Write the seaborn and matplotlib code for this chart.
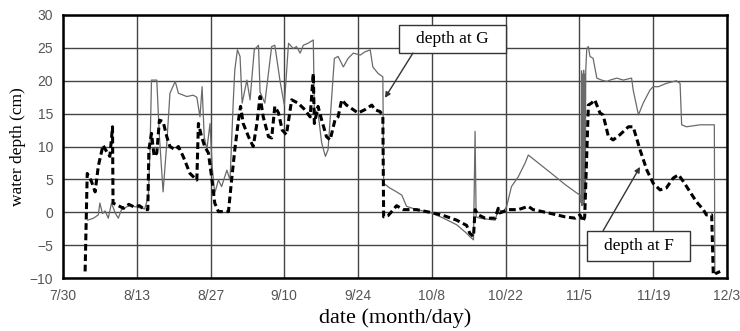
import matplotlib
matplotlib.use("Agg")
import seaborn as sns
import matplotlib.pyplot as plt
import matplotlib.patches as mpatches
import pandas as pd

# days counted from 7/30
tick_labels = ["7/30", "8/13", "8/27", "9/10", "9/24", "10/8", "10/22", "11/5", "11/19", "12/3"]

# depth at F (dashed)
f_days = [4.2, 4.6, 5.4, 6.1, 6.7, 7.6, 8.3, 8.9, 9.4, 9.5, 10.5, 11.5, 12.5, 13.5, 14.5, 15.5, 16.1,
          16.3, 16.8, 17.3, 17.8, 18.3, 19.0, 19.7, 20.3, 21.3, 21.9, 22.8, 24.1, 25.4,
          25.7, 26.3, 26.9, 27.6, 28.2, 28.8, 29.5, 31.4, 32.0, 32.6, 33.3, 33.7, 34.2, 35.2, 36.1,
          36.8, 37.4, 38.0, 39.0, 39.6, 40.2, 40.9, 41.6, 42.4, 43.4, 44.6, 45.9, 46.9, 47.5, 47.7,
          48.4, 49.1, 50.0, 50.7, 51.6, 52.2, 52.9, 53.8, 55.1, 56.0, 57.3, 58.6, 59.2, 60.2, 60.7,
          60.85, 61.7, 62.7, 63.3, 64.6, 67.1, 69.6, 72.2, 74.7, 76.6, 77.2, 77.9, 78.2, 78.8, 80.1,
          82.0, 82.6, 82.9, 84.5, 86.4, 88.3, 89.2, 92.1, 95.3, 97.2, 98.1, 98.7, 99.0, 99.7, 100.3,
          100.9, 101.9, 102.5, 103.5, 104.4, 105.7, 107.3, 108.2, 109.5, 110.8, 112.0, 113.3, 114.5,
          115.8, 116.8, 117.7, 119.0, 120.2, 121.5, 122.1, 123.1, 123.4, 124.7]
f_depth = [-9.0, 5.9, 4.7, 3.1, 7.0, 10.2, 9.2, 8.5, 13.0, 1.4, 1.0, 0.6, 1.2, 0.8, 1.0, 0.4, 0.4,
           9.5, 12.0, 8.5, 9.0, 14.0, 13.8, 11.5, 10.0, 9.5, 10.0, 8.5, 5.9, 4.9,
           13.5, 11.5, 10.0, 9.0, 5.4, 1.4, 0.1, 0.1, 4.9, 9.5, 14.0, 16.1, 13.5, 11.5, 10.0,
           13.5, 17.6, 14.5, 11.5, 11.3, 16.1, 15.1, 12.5, 11.8, 17.1, 16.6, 15.6, 14.5, 21.1, 13.5,
           16.1, 14.0, 11.5, 11.0, 14.0, 14.5, 17.1, 16.3, 15.6, 15.1, 15.6, 16.3, 15.6, 15.3, 14.5,
           -0.7, -0.5, 0.4, 1.0, 0.4, 0.4, 0.0, -0.5, -1.2, -2.0, -3.2, -3.7, 0.4, -0.4, -0.9,
           -0.9, 0.6, -0.1, 0.4, 0.4, 0.9, 0.4, -0.1, -0.7, -0.9, -0.4, -1.4, -0.7, 16.3, 16.6,
           17.1, 15.1, 14.8, 11.5, 11.0, 11.8, 13.0, 13.0, 9.5, 6.4, 4.4, 3.4, 3.7,
           5.2, 5.7, 4.7, 3.1, 1.6, 0.4, -0.4, -0.4, -9.5, -9.0]

# depth at G (thin)
g_days = [4.7, 5.8, 6.7, 7.0, 7.5, 8.0, 8.6, 9.2, 9.9, 10.5, 11.1, 12.5, 14.0, 15.5, 16.2,
          16.5, 16.8, 17.8, 18.3, 19.0, 19.7, 20.3, 21.3, 21.9, 23.5, 24.7, 25.4,
          26.0, 26.4, 26.8, 27.3, 27.9, 28.3, 28.8, 29.5, 30.1, 31.1, 31.7, 32.3, 32.6, 33.1, 33.6,
          34.0, 34.9, 35.5, 36.3, 37.1, 37.4, 38.3, 39.6, 40.2, 41.2, 42.0, 42.8, 43.7, 44.3, 45.0,
          45.6, 46.5, 47.5, 47.7, 48.4, 49.1, 49.8, 50.3, 51.0, 51.5, 52.2, 53.2, 54.1, 55.1, 56.4,
          57.3, 58.3, 58.8, 59.8, 60.7, 60.85, 62.0, 63.3, 64.3, 65.2, 67.1, 69.6, 72.2, 74.7, 76.6,
          77.2, 77.9, 78.2, 78.4, 79.1, 82.0, 82.6, 83.6, 84.2, 85.1, 86.4, 87.7, 88.3, 90.2, 92.7,
          95.3, 97.2, 98.1, 98.3, 98.4, 98.5, 98.6, 98.7, 98.8, 98.9, 99.0, 99.1, 99.2, 99.4, 99.7,
          100.0, 100.6, 101.3, 102.2, 103.2, 103.8, 105.1, 106.3, 107.9, 108.2, 109.2, 110.1, 111.4,
          112.0, 113.0, 114.5, 116.4, 117.1, 117.4, 118.3, 120.9, 123.1, 123.6, 123.7]
g_depth = [-1.2, -0.9, -0.4, 1.4, -0.2, 0.2, -0.9, 1.4, -0.1, -0.9, 0.4, 1.0, 0.8, 0.5, 2.4,
           9.0, 20.1, 20.1, 11.5, 3.1, 10.5, 18.1, 19.9, 18.1, 17.6, 17.8, 17.5,
           14.5, 19.1, 11.5, 9.5, 13.5, 7.0, 2.9, 4.9, 3.9, 6.4, 4.9, 16.6, 21.6, 24.7, 23.7,
           16.6, 20.1, 17.1, 24.7, 25.4, 18.3, 16.6, 25.2, 25.4, 19.9, 16.3, 25.7, 24.9, 25.2, 24.2,
           25.4, 25.7, 26.2, 15.6, 15.1, 10.5, 8.5, 9.5, 17.6, 23.4, 23.7, 22.1, 23.4, 24.2, 23.9,
           24.4, 24.7, 22.1, 21.1, 20.6, 4.4, 3.7, 3.1, 2.6, 0.9, 0.4, 0.0, -0.9, -1.9, -3.2,
           -3.7, -4.2, 12.3, -0.7, -0.9, -1.2, 0.4, 0.1, 0.9, 3.9, 5.4, 7.5, 8.7, 7.5, 5.9,
           4.2, 3.1, 2.6, 1.5, 21.5, 1.0, 21.0, 1.2, 21.6, 1.5, 21.0, 2.0, 21.6, 24.9, 25.2,
           23.7, 23.4, 20.4, 20.1, 19.9, 20.1, 20.4, 20.1, 20.4, 18.6, 14.8, 16.6, 18.6,
           19.1, 19.1, 19.6, 20.0, 19.6, 13.3, 13.0, 13.3, 13.3, 13.3, -9.3]

df_f = pd.DataFrame({"day": f_days, "depth": f_depth})
df_g = pd.DataFrame({"day": g_days, "depth": g_depth})

plt.rcParams["axes.facecolor"] = "white"
fig = plt.figure(figsize=(7.4, 3.31), dpi=100)
ax = fig.add_axes([0.0851, 0.1601, 0.8973, 0.7946])

sns.lineplot(df_g, x="day", y="depth", sort=False, estimator=None, ax=ax,
             color="#6a6a6a", linewidth=0.9)
sns.lineplot(df_f, x="day", y="depth", sort=False, estimator=None, ax=ax,
             color="black", linewidth=2.2, linestyle=(0, (2.2, 1.2)))

ax.set_xlim(0, 126)
ax.set_ylim(-10, 30)
ax.set_xticks(range(0, 127, 14))
ax.set_xticklabels(tick_labels)
ax.set_yticks(range(-10, 31, 5))
ax.grid(True, color="#444444", linewidth=1.0)
ax.set_axisbelow(True)
for s in ax.spines.values():
    s.set_linewidth(1.8)
    s.set_color("black")
ax.tick_params(length=0, labelsize=10, labelcolor="#555555")
ax.tick_params(axis="x", pad=8)
ax.tick_params(axis="y", pad=7)
for lab in ax.get_xticklabels() + ax.get_yticklabels():
    lab.set_family("Liberation Sans")

ax.set_xlabel("date (month/day)", family="Liberation Serif", fontsize=16, labelpad=4)
ax.set_ylabel("water depth (cm)", family="Liberation Serif", fontsize=12.5, labelpad=3)

# label boxes with arrows
for x0, y0, w, h in [(63.8, 24.2, 20.3, 4.3), (99.4, -7.4, 19.6, 4.6)]:
    ax.add_patch(mpatches.Rectangle((x0, y0), w, h, fc="white", ec="#333333", lw=1.0, zorder=5))
ax.text(73.9, 26.35, "depth at G", ha="center", va="center", family="Liberation Serif",
        fontsize=12.5, zorder=6)
ax.text(109.2, -5.1, "depth at F", ha="center", va="center", family="Liberation Serif",
        fontsize=12.5, zorder=6)
arrow = dict(arrowstyle="-|>", color="#333333", lw=1.0, mutation_scale=8, shrinkA=0, shrinkB=0)
ax.annotate("", xy=(61.1, 17.4), xytext=(66.4, 24.2), arrowprops=arrow, zorder=6)
ax.annotate("", xy=(109.5, 6.9), xytext=(102.5, -2.8), arrowprops=arrow, zorder=6)

plt.savefig("out.png", dpi=100)
plt.close()
